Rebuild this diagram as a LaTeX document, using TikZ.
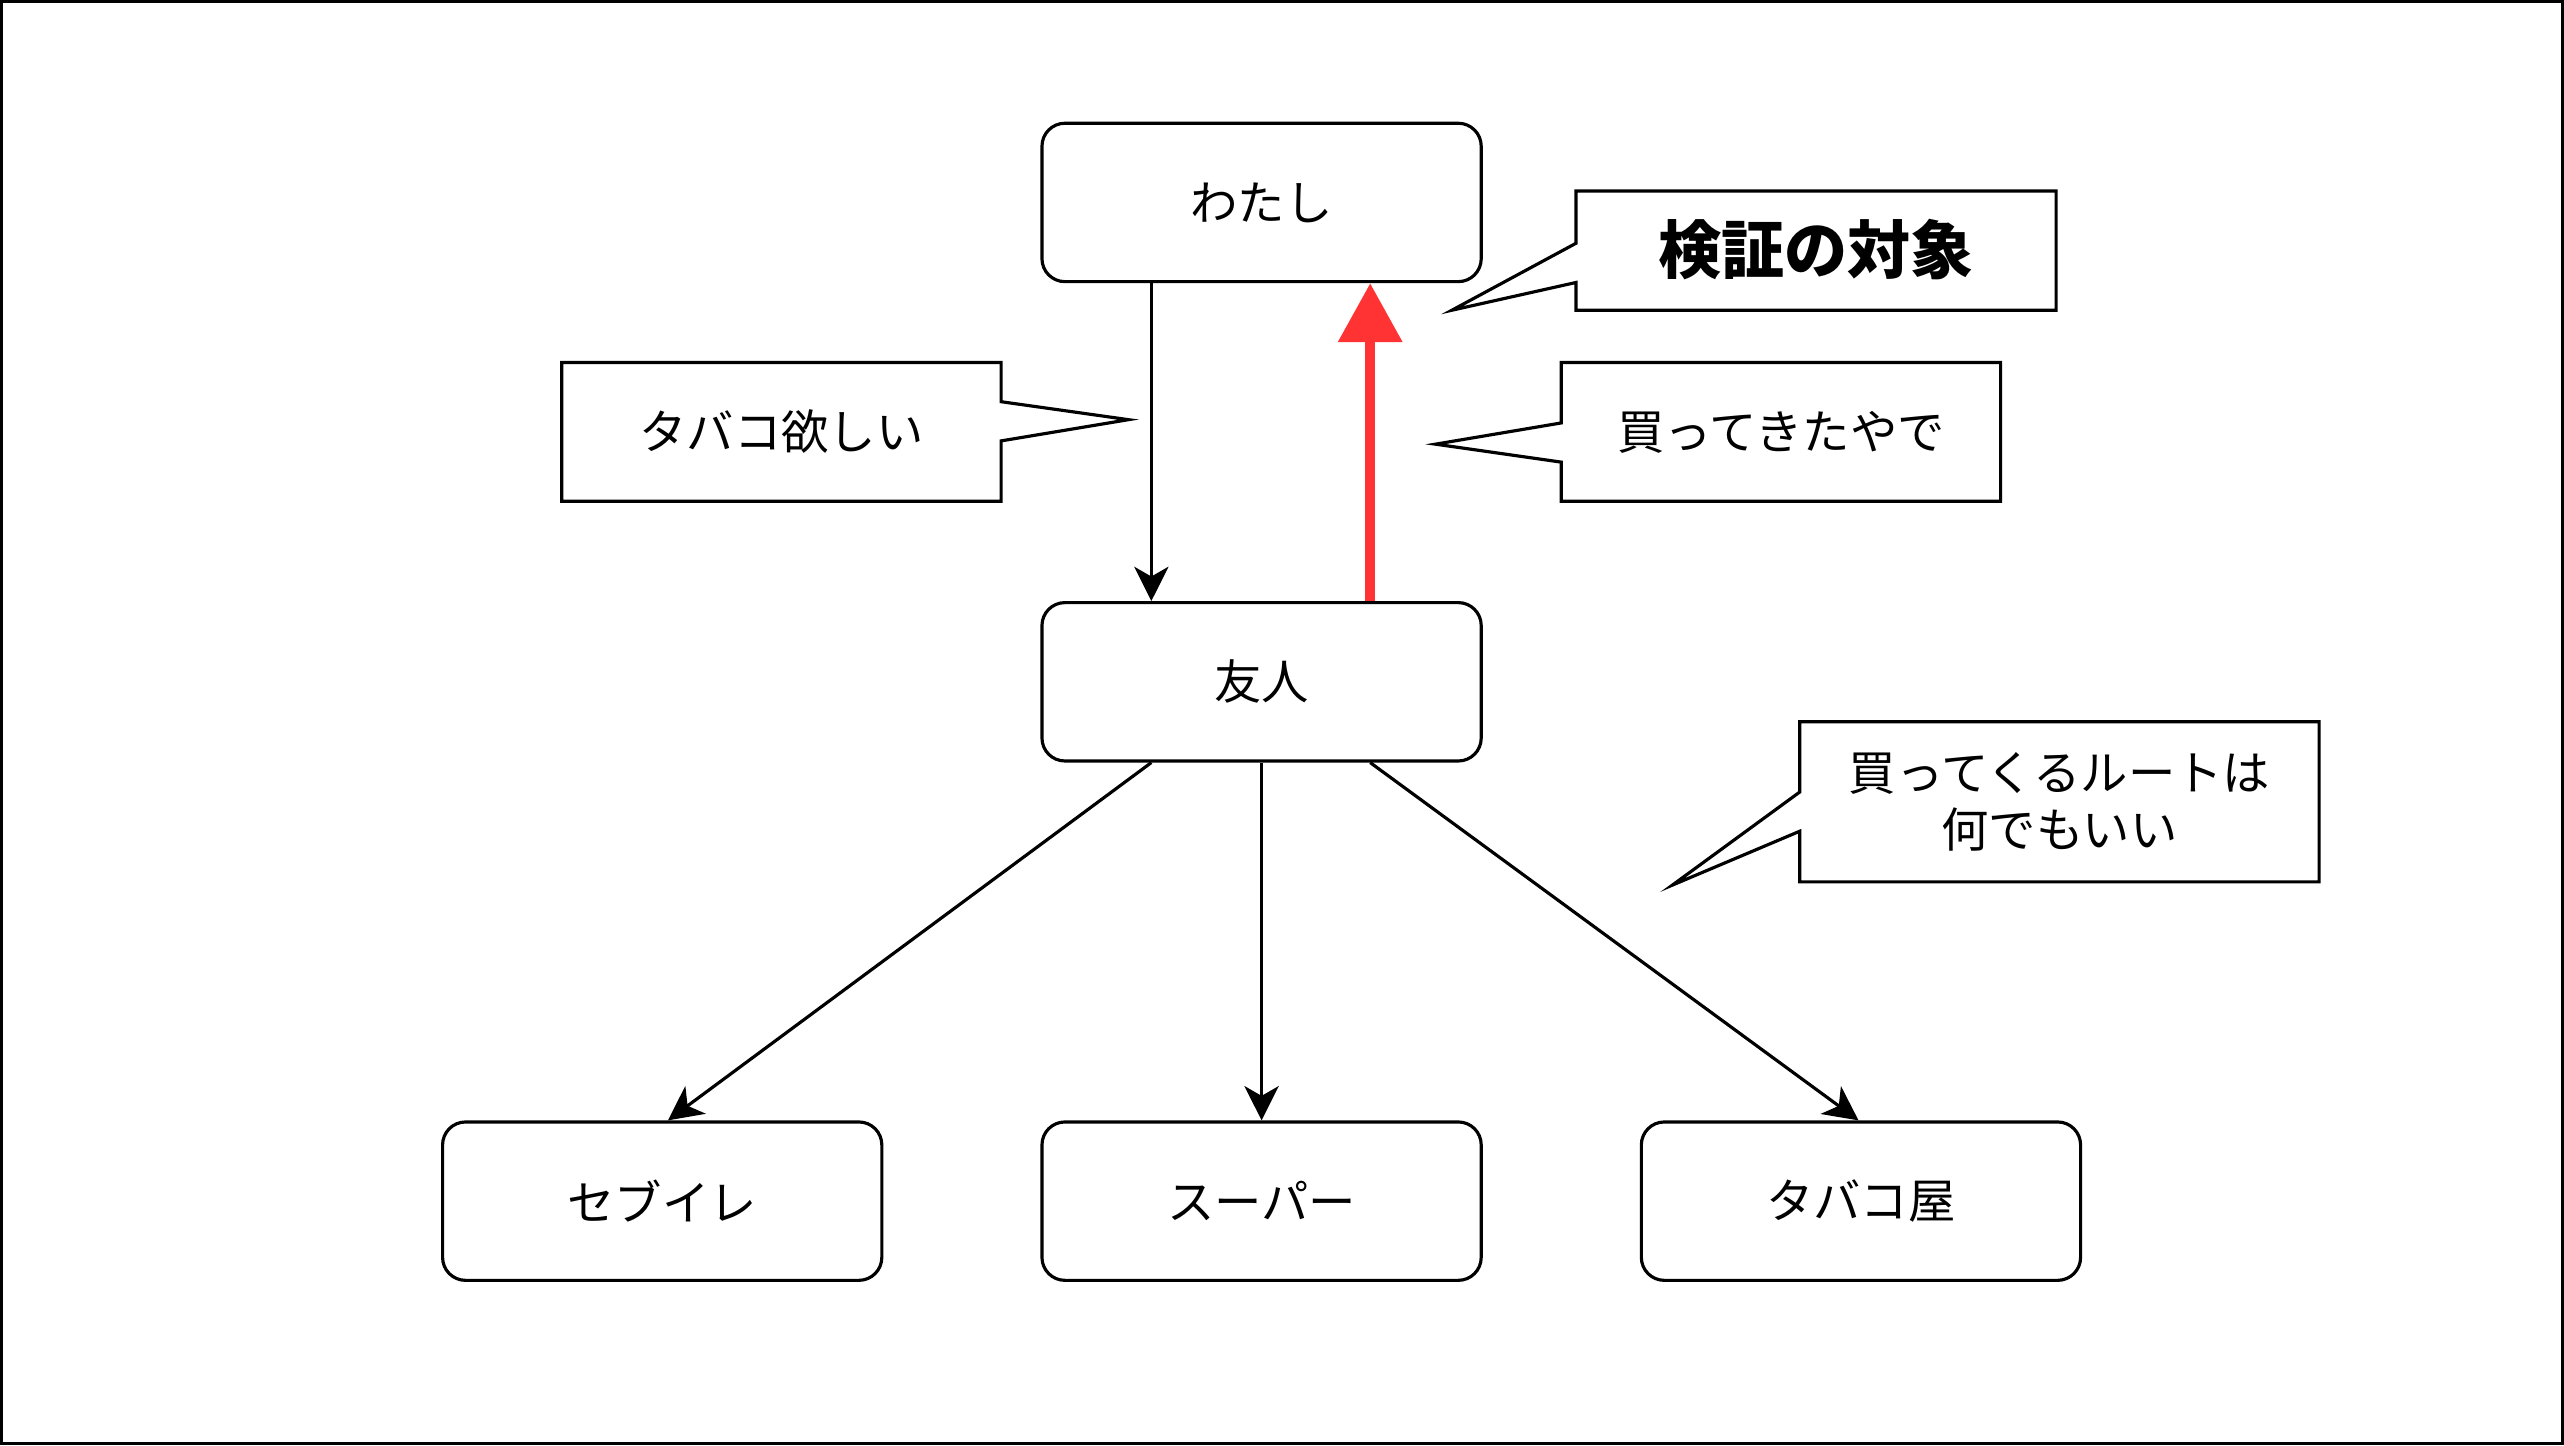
\documentclass[tikz,border=0pt]{standalone}
\usepackage{fontspec}
\setmainfont{Noto Sans CJK JP}
\usetikzlibrary{arrows.meta}
\tikzset{
  label text/.style={font=\fontsize{16.5}{20}\selectfont},
  box/.style={draw,line width=1.1pt,rounded corners=8pt,minimum width=5.38cm,minimum height=1.94cm,label text},
  callout/.style={draw,line width=1.1pt,fill=white},
  link/.style={line width=1.1pt,-{Stealth[length=0.42cm,width=0.42cm,inset=0.12cm]}}
}
\begin{document}
\begin{tikzpicture}[x=0.02cm,y=-0.02cm]

\draw[line width=1.1pt] (0,0) rectangle (1568,883); % frame

% boxes
\node[box] (me) at (771.5,123) {わたし};
\node[box] (friend) at (771.5,416.5) {友人};
\node[box] (seven) at (404.5,734.5) {セブイレ};
\node[box] (super) at (771.5,734.5) {スーパー};
\node[box] (shop) at (1138.5,734.5) {タバコ屋};

% connectors
\draw[link] (me.south -| 704,0) -- (friend.north -| 704,0);
\draw[line width=3.4pt,red!80!white,-{Triangle[length=0.72cm,width=0.76cm]}] (friend.north -| 838,0) -- (me.south -| 838,0);
\draw[link] (friend.south -| 704,0) -- (seven.north -| 408,0);
\draw[link] (friend.south) -- (super.north);
\draw[link] (friend.south -| 838,0) -- (shop.north -| 1137,0);

% callouts
\draw[callout] (343,221) -- (612,221) -- (612,245) -- (690,256) -- (612,269) -- (612,306) -- (343,306) -- cycle;
\node[label text] (want) at (477.5,263.5) {タバコ欲しい};
\draw[callout] (955,221) -- (1224,221) -- (1224,306) -- (955,306) -- (955,282) -- (878,271) -- (955,258) -- cycle;
\node[label text] (bought) at (1089.5,263.5) {買ってきたやで};
\draw[callout] (964,116) -- (1258,116) -- (1258,189) -- (964,189) -- (964,172) -- (888,189) -- (964,148) -- cycle;
\node[font=\fontsize{22}{26}\selectfont\bfseries] (target) at (1111,152) {検証の対象};
\draw[callout] (1101,441) -- (1419,441) -- (1419,539) -- (1101,539) -- (1101,508) -- (1023,541) -- (1101,484) -- cycle;
\node[label text,align=center] (route) at (1260,490) {買ってくるルートは\\何でもいい};
\end{tikzpicture}
\end{document}
